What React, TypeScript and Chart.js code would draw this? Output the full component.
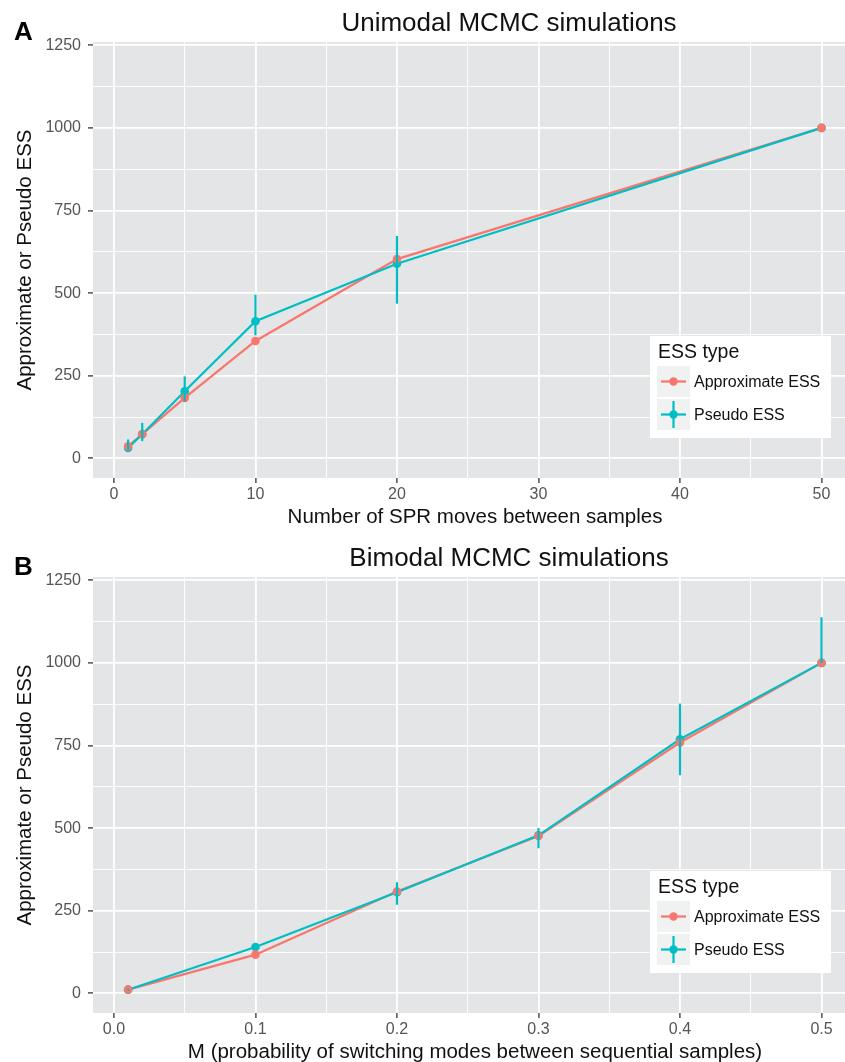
import React, { useEffect, useRef } from "react";
import { Chart, registerables } from "chart.js";

Chart.register(...registerables);

// ---------- Data ----------
const unimodalX = [1, 2, 5, 10, 20, 50];
const unimodalApprox = [36, 73, 183, 355, 603, 1000];
const unimodalPseudo = [31, 73, 203, 415, 589, 1000];
const unimodalPseudoLow = [25, 52, 172, 372, 468, 1000];
const unimodalPseudoHigh = [57, 107, 248, 495, 673, 1000];

const bimodalX = [0.01, 0.1, 0.2, 0.3, 0.4, 0.5];
const bimodalApprox = [11, 117, 308, 476, 759, 1000];
const bimodalPseudo = [11, 140, 306, 478, 769, 1000];
const bimodalPseudoLow = [8, 134, 268, 439, 660, 1000];
const bimodalPseudoHigh = [14, 146, 336, 500, 877, 1138];

const yTickValues = [0, 125, 250, 375, 500, 625, 750, 875, 1000, 1125, 1250];
const yMajorTicks = [0, 250, 500, 750, 1000, 1250];

const unimodalXTicks = [0, 5, 10, 15, 20, 25, 30, 35, 40, 45, 50];
const unimodalXMajor = [0, 10, 20, 30, 40, 50];
const bimodalXTicks = [0, 0.05, 0.1, 0.15, 0.2, 0.25, 0.3, 0.35, 0.4, 0.45, 0.5];
const bimodalXMajor = [0, 0.1, 0.2, 0.3, 0.4, 0.5];

const seriesLabels = ["Approximate ESS", "Pseudo ESS"];
const legendTitle = "ESS type";
const yAxisTitle = "Approximate or Pseudo ESS";

// ---------- Styles ----------
const FONT = '"Liberation Sans", Arial, Helvetica, sans-serif';
const PINK = "#F8766D";
const TEAL = "#00BFC4";
const PANEL_BG = "#E4E5E7";
const TICK_TEXT = "#555555";

type Spec = {
  letter: string;
  title: string;
  xTitle: string;
  x: number[];
  approx: number[];
  pseudo: number[];
  low: number[];
  high: number[];
  xTicks: number[];
  xMajor: number[];
  xMin: number;
  xMax: number;
  fmt: (v: number) => string;
  height: number;
};

const isIn = (arr: number[], v: number) => arr.some((a) => Math.abs(a - v) < 1e-9);

function makePlugin(spec: Spec) {
  return {
    id: "panelDeco",
    beforeDraw(chart: any) {
      const { ctx, chartArea: a } = chart;
      ctx.save();
      ctx.fillStyle = PANEL_BG;
      ctx.fillRect(a.left, a.top, a.right - a.left, a.bottom - a.top);
      ctx.restore();
    },
    afterDatasetsDraw(chart: any) {
      const { ctx, chartArea: a } = chart;
      const xs = chart.scales.x;
      const ys = chart.scales.y;
      ctx.save();
      ctx.beginPath();
      ctx.rect(a.left, a.top, a.right - a.left, a.bottom - a.top);
      ctx.clip();
      ctx.strokeStyle = TEAL;
      ctx.lineWidth = 2.2;
      spec.x.forEach((xv, i) => {
        const px = xs.getPixelForValue(xv);
        ctx.beginPath();
        ctx.moveTo(px, ys.getPixelForValue(spec.low[i]));
        ctx.lineTo(px, ys.getPixelForValue(spec.high[i]));
        ctx.stroke();
      });
      ctx.restore();
    },
    afterDraw(chart: any) {
      const { ctx, chartArea: a } = chart;
      ctx.save();
      // Panel letter
      ctx.fillStyle = "#000";
      ctx.font = `bold 26px ${FONT}`;
      ctx.textAlign = "left";
      ctx.textBaseline = "alphabetic";
      ctx.fillText(spec.letter, 14, 40);
      // Title
      ctx.font = `26px ${FONT}`;
      ctx.textAlign = "center";
      ctx.fillStyle = "#111";
      ctx.fillText(spec.title, 509, 31);
      // X axis title
      ctx.font = `20.5px ${FONT}`;
      ctx.fillText(spec.xTitle, 475, 523);
      // Y axis title
      ctx.save();
      ctx.translate(31, (a.top + a.bottom) / 2);
      ctx.rotate(-Math.PI / 2);
      ctx.textAlign = "center";
      ctx.fillText(yAxisTitle, 0, 0);
      ctx.restore();

      // Legend
      const lx = 650, ly = 336, lw = 181, lh = 102;
      ctx.fillStyle = "#FFFFFF";
      ctx.fillRect(lx, ly, lw, lh);
      ctx.fillStyle = "#111";
      ctx.font = `19.5px ${FONT}`;
      ctx.textAlign = "left";
      ctx.fillText(legendTitle, 658, 358);
      const keys = [
        { y: 366, h: 31, color: PINK, bar: false },
        { y: 399, h: 31, color: TEAL, bar: true },
      ];
      keys.forEach((k, i) => {
        ctx.fillStyle = "#F0F1F1";
        ctx.fillRect(657, k.y, 33, k.h);
        const cy = k.y + k.h / 2;
        ctx.strokeStyle = k.color;
        ctx.lineWidth = 2.2;
        ctx.beginPath();
        ctx.moveTo(661, cy);
        ctx.lineTo(686, cy);
        ctx.stroke();
        if (k.bar) {
          ctx.beginPath();
          ctx.moveTo(673.5, k.y + 2);
          ctx.lineTo(673.5, k.y + k.h - 2);
          ctx.stroke();
        }
        ctx.fillStyle = k.color;
        ctx.beginPath();
        ctx.arc(673.5, cy, 4.2, 0, Math.PI * 2);
        ctx.fill();
        ctx.fillStyle = "#111";
        ctx.font = `16px ${FONT}`;
        ctx.textBaseline = "middle";
        ctx.fillText(seriesLabels[i], 694, cy + 1);
        ctx.textBaseline = "alphabetic";
      });
      ctx.restore();
    },
  };
}

function buildConfig(spec: Spec): any {
  const pts = (ys: number[]) => spec.x.map((x, i) => ({ x, y: ys[i] }));
  return {
    type: "line",
    data: {
      datasets: [
        {
          label: seriesLabels[0],
          data: pts(spec.approx),
          borderColor: PINK,
          borderWidth: 2.2,
          pointRadius: 0,
          fill: false,
          order: 5,
        },
        {
          label: seriesLabels[1],
          data: pts(spec.pseudo),
          borderColor: TEAL,
          borderWidth: 2.2,
          pointRadius: 0,
          fill: false,
          order: 4,
        },
        {
          label: seriesLabels[1] + " points",
          data: pts(spec.pseudo),
          showLine: false,
          pointRadius: 4.3,
          pointBorderWidth: 0,
          pointBackgroundColor: TEAL,
          pointBorderColor: TEAL,
          order: 3,
        },
        {
          label: seriesLabels[0] + " points",
          data: pts(spec.approx),
          showLine: false,
          pointRadius: 4.3,
          pointBorderWidth: 0,
          pointBackgroundColor: PINK,
          pointBorderColor: PINK,
          order: 2,
        },
      ],
    },
    options: {
      responsive: false,
      animation: false,
      events: [],
      devicePixelRatio: 1,
      layout: { autoPadding: false, padding: { top: 42, left: 0, right: 0, bottom: 0 } },
      plugins: {
        legend: { display: false },
        tooltip: { enabled: false },
        title: { display: false },
      },
      scales: {
        x: {
          type: "linear",
          min: spec.xMin,
          max: spec.xMax,
          afterBuildTicks: (s: any) => {
            s.ticks = spec.xTicks.map((v) => ({ value: v }));
          },
          afterFit: (s: any) => {
            s.height = spec.height - 478;
          },
          border: { display: false },
          grid: {
            color: "#FFFFFF",
            lineWidth: (c: any) => (isIn(spec.xMajor, c.tick.value) ? 1.8 : 0.9),
            tickColor: (c: any) => (isIn(spec.xMajor, c.tick.value) ? "#333333" : "rgba(0,0,0,0)"),
            tickLength: 5,
            tickWidth: 1.3,
          },
          ticks: {
            autoSkip: false,
            maxRotation: 0,
            minRotation: 0,
            padding: 2,
            color: TICK_TEXT,
            font: { family: FONT, size: 16 },
            callback: (v: any) => (isIn(spec.xMajor, Number(v)) ? spec.fmt(Number(v)) : ""),
          },
        },
        y: {
          type: "linear",
          min: -59.6,
          max: 1260,
          afterBuildTicks: (s: any) => {
            s.ticks = yTickValues.map((v) => ({ value: v }));
          },
          afterFit: (s: any) => {
            s.width = 93;
          },
          border: { display: false },
          grid: {
            color: "#FFFFFF",
            lineWidth: (c: any) => (isIn(yMajorTicks, c.tick.value) ? 1.8 : 0.9),
            tickColor: (c: any) => (isIn(yMajorTicks, c.tick.value) ? "#333333" : "rgba(0,0,0,0)"),
            tickLength: 5,
            tickWidth: 1.3,
          },
          ticks: {
            autoSkip: false,
            padding: 7,
            color: TICK_TEXT,
            font: { family: FONT, size: 16 },
            callback: (v: any) => (isIn(yMajorTicks, Number(v)) ? String(v) : ""),
          },
        },
      },
    },
    plugins: [makePlugin(spec)],
  };
}

function Panel({ spec }: { spec: Spec }) {
  const ref = useRef<HTMLCanvasElement | null>(null);
  useEffect(() => {
    if (!ref.current) return;
    const chart = new Chart(ref.current, buildConfig(spec));
    return () => chart.destroy();
  }, [spec]);
  return (
    <canvas
      ref={ref}
      width={845}
      height={spec.height}
      style={{ display: "block", width: 845, height: spec.height }}
    />
  );
}

const specA: Spec = {
  letter: "A",
  title: "Unimodal MCMC simulations",
  xTitle: "Number of SPR moves between samples",
  x: unimodalX,
  approx: unimodalApprox,
  pseudo: unimodalPseudo,
  low: unimodalPseudoLow,
  high: unimodalPseudoHigh,
  xTicks: unimodalXTicks,
  xMajor: unimodalXMajor,
  xMin: -1.48,
  xMax: 51.66,
  fmt: (v) => String(v),
  height: 535,
};

const specB: Spec = {
  letter: "B",
  title: "Bimodal MCMC simulations",
  xTitle: "M (probability of switching modes between sequential samples)",
  x: bimodalX,
  approx: bimodalApprox,
  pseudo: bimodalPseudo,
  low: bimodalPseudoLow,
  high: bimodalPseudoHigh,
  xTicks: bimodalXTicks,
  xMajor: bimodalXMajor,
  xMin: -0.0148,
  xMax: 0.5166,
  fmt: (v) => v.toFixed(1),
  height: 527,
};

export default function App() {
  useEffect(() => {
    document.body.style.margin = "0";
  }, []);
  return (
    <div style={{ width: 845, height: 1062, background: "#FFFFFF" }}>
      <Panel spec={specA} />
      <Panel spec={specB} />
    </div>
  );
}
